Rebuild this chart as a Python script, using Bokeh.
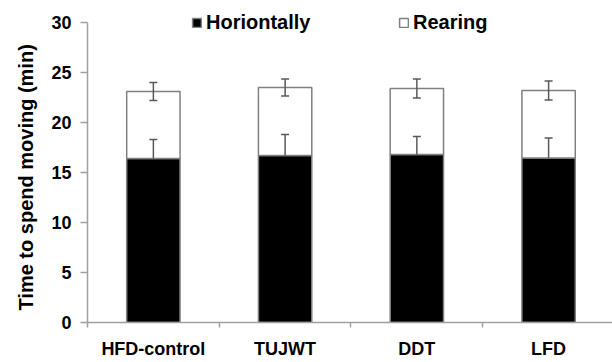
from bokeh.plotting import figure
from bokeh.models import (ColumnDataSource, Range1d, FixedTicker, Legend, LegendItem,
                          Whisker, TeeHead, Title)
from bokeh.embed import file_html
from bokeh.resources import INLINE

groups = ["HFD-control", "TUJWT", "DDT", "LFD"]
horizontal = [16.4, 16.7, 16.8, 16.45]
horizontal_err = [1.9, 2.1, 1.8, 2.0]
rearing = [6.7, 6.8, 6.6, 6.75]
rearing_err = [0.9, 0.85, 0.95, 0.95]
y_ticks = [0, 5, 10, 15, 20, 25, 30]

xs = [i + 0.5 for i in range(len(groups))]
total = [h + r for h, r in zip(horizontal, rearing)]
src = ColumnDataSource(dict(
    x=xs, h=horizontal, t=total,
    h_up=[h + e for h, e in zip(horizontal, horizontal_err)],
    t_up=[t + e for t, e in zip(total, rearing_err)],
    t_lo=[t - e for t, e in zip(total, rearing_err)],
))

FONT = "Liberation Sans"
AXIS_GRAY = "#a0a0a0"
BAR_LINE = "#808080"
ERR = "#595959"

p = figure(width=612, height=362, output_backend="svg", toolbar_location=None,
           x_range=Range1d(0, 3.985), y_range=Range1d(0, 31),
           min_border_left=80, min_border_right=0, min_border_top=12, min_border_bottom=40)
p.outline_line_color = None
p.xgrid.visible = False
p.ygrid.visible = False

r_h = p.vbar(x="x", top="h", bottom=0, width=0.405, source=src,
             fill_color="black", line_color=BAR_LINE, line_width=1.5)
r_r = p.vbar(x="x", top="t", bottom="h", width=0.405, source=src,
             fill_color="white", line_color=BAR_LINE, line_width=1.5)

p.add_layout(Whisker(base="x", upper="h_up", lower="h", source=src, level="overlay",
                     line_color=ERR, line_width=1.5,
                     upper_head=TeeHead(size=8, line_color=ERR, line_width=1.5),
                     lower_head=None))
p.add_layout(Whisker(base="x", upper="t_up", lower="t_lo", source=src, level="overlay",
                     line_color=ERR, line_width=1.5,
                     upper_head=TeeHead(size=8, line_color=ERR, line_width=1.5),
                     lower_head=TeeHead(size=8, line_color=ERR, line_width=1.5)))

# x axis
p.xaxis.ticker = FixedTicker(ticks=xs, minor_ticks=list(range(len(groups))))
p.xaxis.major_label_overrides = {x: g for x, g in zip(xs, groups)}
p.xaxis.major_tick_line_color = None
p.xaxis.major_tick_out = 0
p.xaxis.major_tick_in = 0
p.xaxis.minor_tick_out = 5
p.xaxis.minor_tick_in = 0
p.xaxis.minor_tick_line_color = AXIS_GRAY
p.xaxis.minor_tick_line_width = 1.5
p.xaxis.axis_line_color = AXIS_GRAY
p.xaxis.axis_line_width = 1.5
p.xaxis.major_label_standoff = 11
p.xaxis.major_label_text_font = FONT
p.xaxis.major_label_text_font_style = "bold"
p.xaxis.major_label_text_font_size = "18px"
p.xaxis.major_label_text_color = "black"

# y axis
p.yaxis.ticker = FixedTicker(ticks=y_ticks)
p.yaxis.bounds = (0, 30)
p.yaxis.minor_tick_line_color = None
p.yaxis.major_tick_out = 7
p.yaxis.major_tick_in = 0
p.yaxis.major_tick_line_color = AXIS_GRAY
p.yaxis.major_tick_line_width = 1.5
p.yaxis.axis_line_color = AXIS_GRAY
p.yaxis.axis_line_width = 1.5
p.yaxis.major_label_standoff = 9
p.yaxis.major_label_text_font = FONT
p.yaxis.major_label_text_font_style = "bold"
p.yaxis.major_label_text_font_size = "18px"
p.yaxis.major_label_text_color = "black"

p.add_layout(Title(text="Time to spend moving (min)", align="left", offset=12,
                   text_font=FONT, text_font_style="bold", text_font_size="20px",
                   text_color="black", standoff=24), "left")

for item, loc in [(LegendItem(label="Horiontally", renderers=[r_h]), (104, 288)),
                  (LegendItem(label="Rearing", renderers=[r_r]), (311, 288))]:
    lg = Legend(items=[item], location=loc, orientation="horizontal",
                glyph_width=11, glyph_height=11, label_standoff=4,
                padding=0, margin=0, spacing=0,
                label_text_font=FONT, label_text_font_style="bold",
                label_text_font_size="20px", label_text_color="black",
                border_line_color=None, background_fill_alpha=0)
    p.add_layout(lg, "center")

open("out.html", "w").write(file_html(p, INLINE))
